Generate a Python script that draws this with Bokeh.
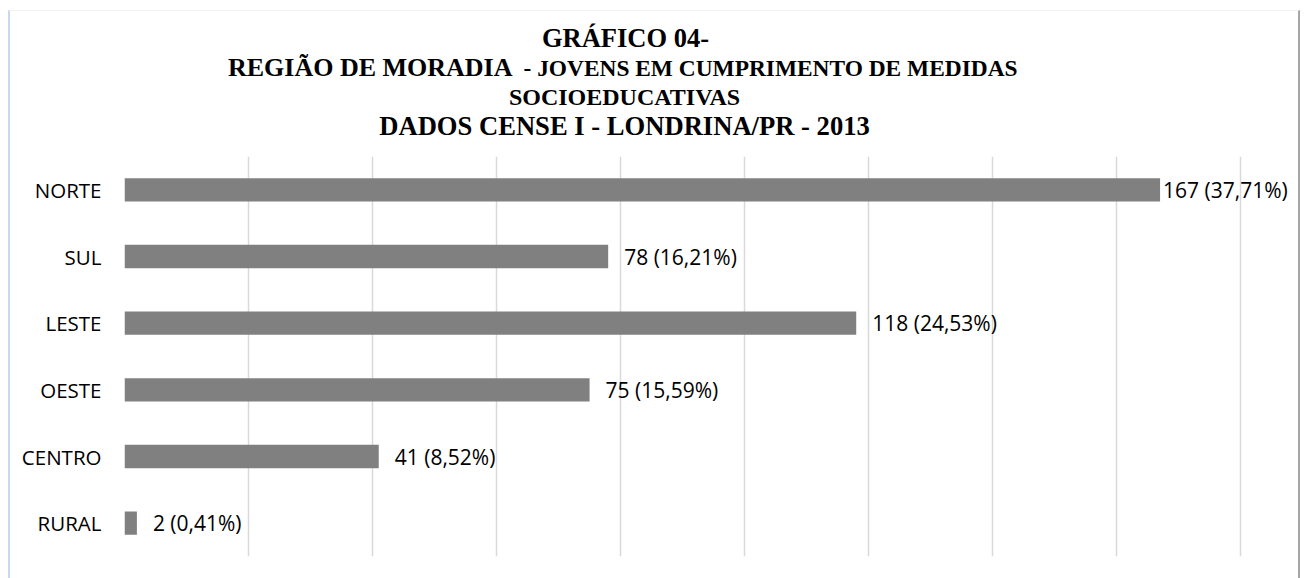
from bokeh.plotting import figure
from bokeh.layouts import column
from bokeh.models import Range1d, FixedTicker, ColumnDataSource
from bokeh.embed import file_html
from bokeh.resources import INLINE
from bokeh.core.properties import value

# ---- data ----
regions = ["NORTE", "SUL", "LESTE", "OESTE", "CENTRO", "RURAL"]
counts = [167, 78, 118, 75, 41, 2]
percents = ["37,71%", "16,21%", "24,53%", "15,59%", "8,52%", "0,41%"]
grid_ticks = list(range(0, 181, 20))

title_line1 = "GRÁFICO 04-"
title_line2a = "REGIÃO DE MORADIA"
title_line2b = "- JOVENS EM CUMPRIMENTO DE MEDIDAS"
title_line3 = "SOCIOEDUCATIVAS"
title_line4 = "DADOS CENSE I - LONDRINA/PR - 2013"

labels = [f"{c} ({p})" for c, p in zip(counts, percents)]
max_count = max(counts)
offsets = [3 if c == max_count else 16 for c in counts]

# ---- title block (coordinates ~ page pixels) ----
t = figure(width=1288, height=140, x_range=Range1d(124, 1296), y_range=Range1d(161, 21),
           output_backend="svg", toolbar_location=None,
           min_border=0, min_border_left=0, min_border_right=0,
           min_border_top=0, min_border_bottom=0)
t.axis.visible = False
t.grid.visible = False
t.outline_line_color = None
t.background_fill_color = "white"
t.border_fill_color = "white"

serif = value("Liberation Serif")
tcommon = dict(text_font=serif, text_font_style="bold", text_color="#000000",
               text_baseline="alphabetic")
t.text(x=[625], y=[47], text=[title_line1], text_align="center", text_font_size="26.5px", **tcommon)
t.text(x=[512], y=[77], text=[title_line2a], text_align="right", text_font_size="26px", **tcommon)
t.text(x=[523], y=[77], text=[title_line2b], text_align="left", text_font_size="23.4px", **tcommon)
t.text(x=[624], y=[106], text=[title_line3], text_align="center", text_font_size="24px", **tcommon)
t.text(x=[624], y=[135], text=[title_line4], text_align="center", text_font_size="26.6px", **tcommon)

# ---- bar chart ----
source = ColumnDataSource(dict(region=regions, count=counts, label=labels, off=offsets))

p = figure(
    width=1288, height=427,
    y_range=list(reversed(regions)),
    x_range=Range1d(0, 189),
    output_backend="svg", toolbar_location=None,
    min_border_left=114, min_border_right=2,
    min_border_top=5, min_border_bottom=22,
)
p.outline_line_color = None
p.background_fill_color = "white"
p.border_fill_color = "white"

p.hbar(y="region", right="count", left=0, height=0.35, source=source,
       fill_color="#808080", line_color=None)

p.text(x="count", y="region", text="label", source=source,
       x_offset="off", text_align="left", text_baseline="middle",
       text_font=value("Open Sans"), text_font_size="21px", text_color="#000000")

p.xaxis.visible = False
p.xgrid.ticker = FixedTicker(ticks=grid_ticks)
p.xgrid.grid_line_color = "#d9d9d9"
p.xgrid.grid_line_width = 1.5
p.ygrid.grid_line_color = None

p.yaxis.axis_line_color = None
p.yaxis.major_tick_line_color = None
p.yaxis.minor_tick_line_color = None
p.yaxis.major_tick_out = 0
p.yaxis.major_tick_in = 0
p.yaxis.major_label_standoff = 23
p.yaxis.major_label_text_font = "Open Sans"
p.yaxis.major_label_text_font_size = "20.5px"
p.yaxis.major_label_text_color = "#000000"

layout = column(t, p, spacing=0,
                styles={"margin-left": "8px", "margin-top": "10px",
                        "border-left": "2px solid #c5d9f1",
                        "border-top": "1px solid #f2f2f2",
                        "border-right": "2px solid #a6a6a6",
                        "background-color": "white"})

open("out.html", "w").write(file_html(layout, INLINE))
